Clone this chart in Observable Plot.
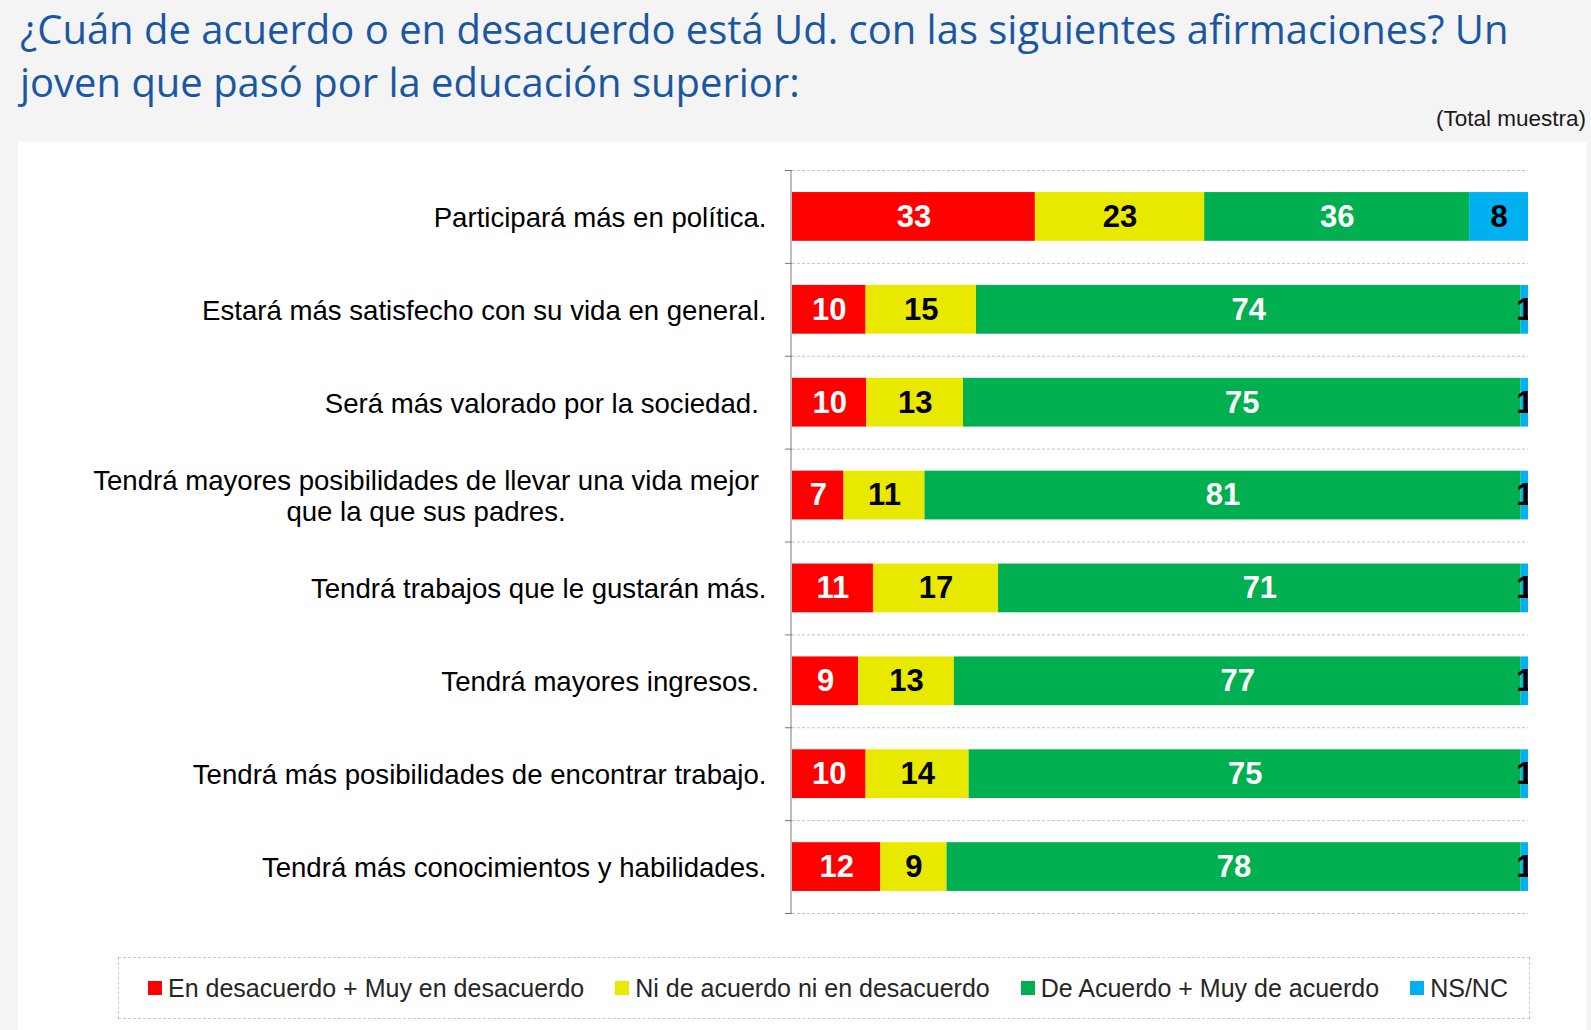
<!DOCTYPE html>
<html>
<head>
<meta charset="utf-8">
<script src="https://cdn.jsdelivr.net/npm/d3@7"></script>
<script src="https://cdn.jsdelivr.net/npm/@observablehq/plot@0.6"></script>
<style>
  html, body { margin: 0; padding: 0; }
  body { width: 1591px; height: 1030px; background: #f4f4f4; position: relative; overflow: hidden; }
  .title { position: absolute; left: 20px; color: #1a57a3; font-family: "Open Sans", sans-serif; white-space: nowrap; line-height: 1; }
  .sub { position: absolute; right: 5px; top: 108px; font-family: "Liberation Sans", Arial, sans-serif; font-size: 22.5px; line-height: 1; color: #1a1a1a; }
  .panel { position: absolute; left: 18px; top: 142px; width: 1569px; height: 888px; background: #fff; }
  #chart { position: absolute; left: 18px; top: 142px; }
  #chart svg text { white-space: pre; }
  .legend { position: absolute; left: 118px; top: 957px; width: 1412px; height: 62px; box-sizing: border-box;
            border: 1px dashed #c8c8c8; display: flex; align-items: center; justify-content: space-between;
            padding: 0 21px 0 29px; font-family: "Liberation Sans", Arial, sans-serif; font-size: 25px; color: #262626; }
  .legend .item { display: flex; align-items: center; white-space: nowrap; }
  .legend .sw { width: 14px; height: 14px; margin-right: 6px; }
</style>
</head>
<body>
<div class="panel"></div>
<div class="title" id="t1">¿Cuán de acuerdo o en desacuerdo está Ud. con las siguientes afirmaciones? Un</div>
<div class="title" id="t2">joven que pasó por la educación superior:</div>
<div class="sub">(Total muestra)</div>
<div id="chart"></div>
<div class="legend" id="legend"></div>
<script>
// ---- data ----
const statements = [
  "Participará más en política.",
  "Estará más satisfecho con su vida en general.",
  "Será más valorado por la sociedad. ",
  "Tendrá mayores posibilidades de llevar una vida mejor \nque la que sus padres. ",
  "Tendrá trabajos que le gustarán más.",
  "Tendrá mayores ingresos. ",
  "Tendrá más posibilidades de encontrar trabajo.",
  "Tendrá más conocimientos y habilidades."
];
const series = [
  "En desacuerdo + Muy en desacuerdo",
  "Ni de acuerdo ni en desacuerdo",
  "De Acuerdo + Muy de acuerdo",
  "NS/NC"
];
const desacuerdo = [33, 10, 10, 7, 11, 9, 10, 12];
const neutral    = [23, 15, 13, 11, 17, 13, 14, 9];
const acuerdo    = [36, 74, 75, 81, 71, 77, 75, 78];
const nsnc       = [8, 1, 1, 1, 1, 1, 1, 1];

// ---- styles ----
const seriesColors = ["#ff0000", "#e9e900", "#00b050", "#00b0f0"];
const labelColors  = ["#ffffff", "#000000", "#ffffff", "#000000"];

const values = [desacuerdo, neutral, acuerdo, nsnc];
const rows = [];
statements.forEach((s, i) => {
  series.forEach((k, j) => rows.push({statement: s, series: k, value: values[j][i]}));
});
const colorOf = Object.fromEntries(series.map((k, j) => [k, seriesColors[j]]));
const labelOf = Object.fromEntries(series.map((k, j) => [k, labelColors[j]]));

// ---- title fitting ----
(function () {
  const ctx = document.createElement("canvas").getContext("2d");
  ctx.font = '40px "Open Sans"';
  const w = ctx.measureText(document.getElementById("t1").textContent).width;
  const size = 40 * 1489 / w;
  const t1 = document.getElementById("t1"), t2 = document.getElementById("t2");
  [t1, t2].forEach(t => t.style.fontSize = size + "px");
  t1.style.top = (44.5 - 0.888 * size) + "px";
  t2.style.top = (97 - 0.888 * size) + "px";
})();

// ---- chart ----
const W = 1560, H = 800, mt = 28, mb = 29;
const step = (H - mt - mb) / statements.length;
const last = [statements[statements.length - 1]];
const font = '"Liberation Sans", Arial, sans-serif';

const chart = Plot.plot({
  width: W, height: H,
  marginLeft: 774, marginRight: 50, marginTop: mt, marginBottom: mb,
  x: {domain: [0, 1], axis: null},
  y: {domain: statements, paddingInner: 0.475, paddingOuter: 0.2375, round: false, axis: null},
  color: {type: "identity"},
  style: {fontFamily: font, background: "transparent", overflow: "visible"},
  marks: [
    Plot.ruleY(statements, {y: d => d, x1: () => 0, x2: () => 1, dy: -step / 2, stroke: "#c4c4c4", strokeDasharray: "3,2"}),
    Plot.ruleY(last, {y: d => d, x1: () => 0, x2: () => 1, dy: step / 2, stroke: "#c4c4c4", strokeDasharray: "3,2"}),
    Plot.ruleY(statements, {y: d => d, x1: () => 0, x2: () => 0, insetLeft: -7, dy: -step / 2, stroke: "#7a7a7a"}),
    Plot.ruleY(last, {y: d => d, x1: () => 0, x2: () => 0, insetLeft: -7, dy: step / 2, stroke: "#7a7a7a"}),
    Plot.ruleX([0], {x: d => d, dx: -1.5, stroke: "#7a7a7a"}),
    Plot.barX(rows, Plot.stackX({
      y: "statement", x: "value", z: "series", order: series, offset: "normalize",
      fill: d => colorOf[d.series]
    })),
    Plot.text(rows, Plot.stackX({
      y: "statement", x: "value", z: "series", order: series, offset: "normalize",
      text: d => String(d.value), fill: d => labelOf[d.series],
      fontSize: 31, fontWeight: "bold", clip: true
    })),
    Plot.text(statements, {
      y: d => d, x: () => 0, text: d => d, dx: -26, textAnchor: "end",
      fontSize: 27.6, lineHeight: 1.13, fill: "#000"
    })
  ]
});
document.getElementById("chart").appendChild(chart);

// center multi-line category labels like the original
chart.querySelectorAll("text").forEach(t => {
  const spans = t.querySelectorAll("tspan");
  if (spans.length > 1) {
    const w = spans[0].getComputedTextLength();
    t.setAttribute("text-anchor", "middle");
    spans.forEach(s => s.setAttribute("x", -w / 2));
  }
});

// ---- legend ----
const legend = document.getElementById("legend");
series.forEach((k, j) => {
  const item = document.createElement("div");
  item.className = "item";
  const sw = document.createElement("span");
  sw.className = "sw";
  sw.style.background = seriesColors[j];
  const lab = document.createElement("span");
  lab.textContent = k;
  item.appendChild(sw); item.appendChild(lab);
  legend.appendChild(item);
});
</script>
</body>
</html>
